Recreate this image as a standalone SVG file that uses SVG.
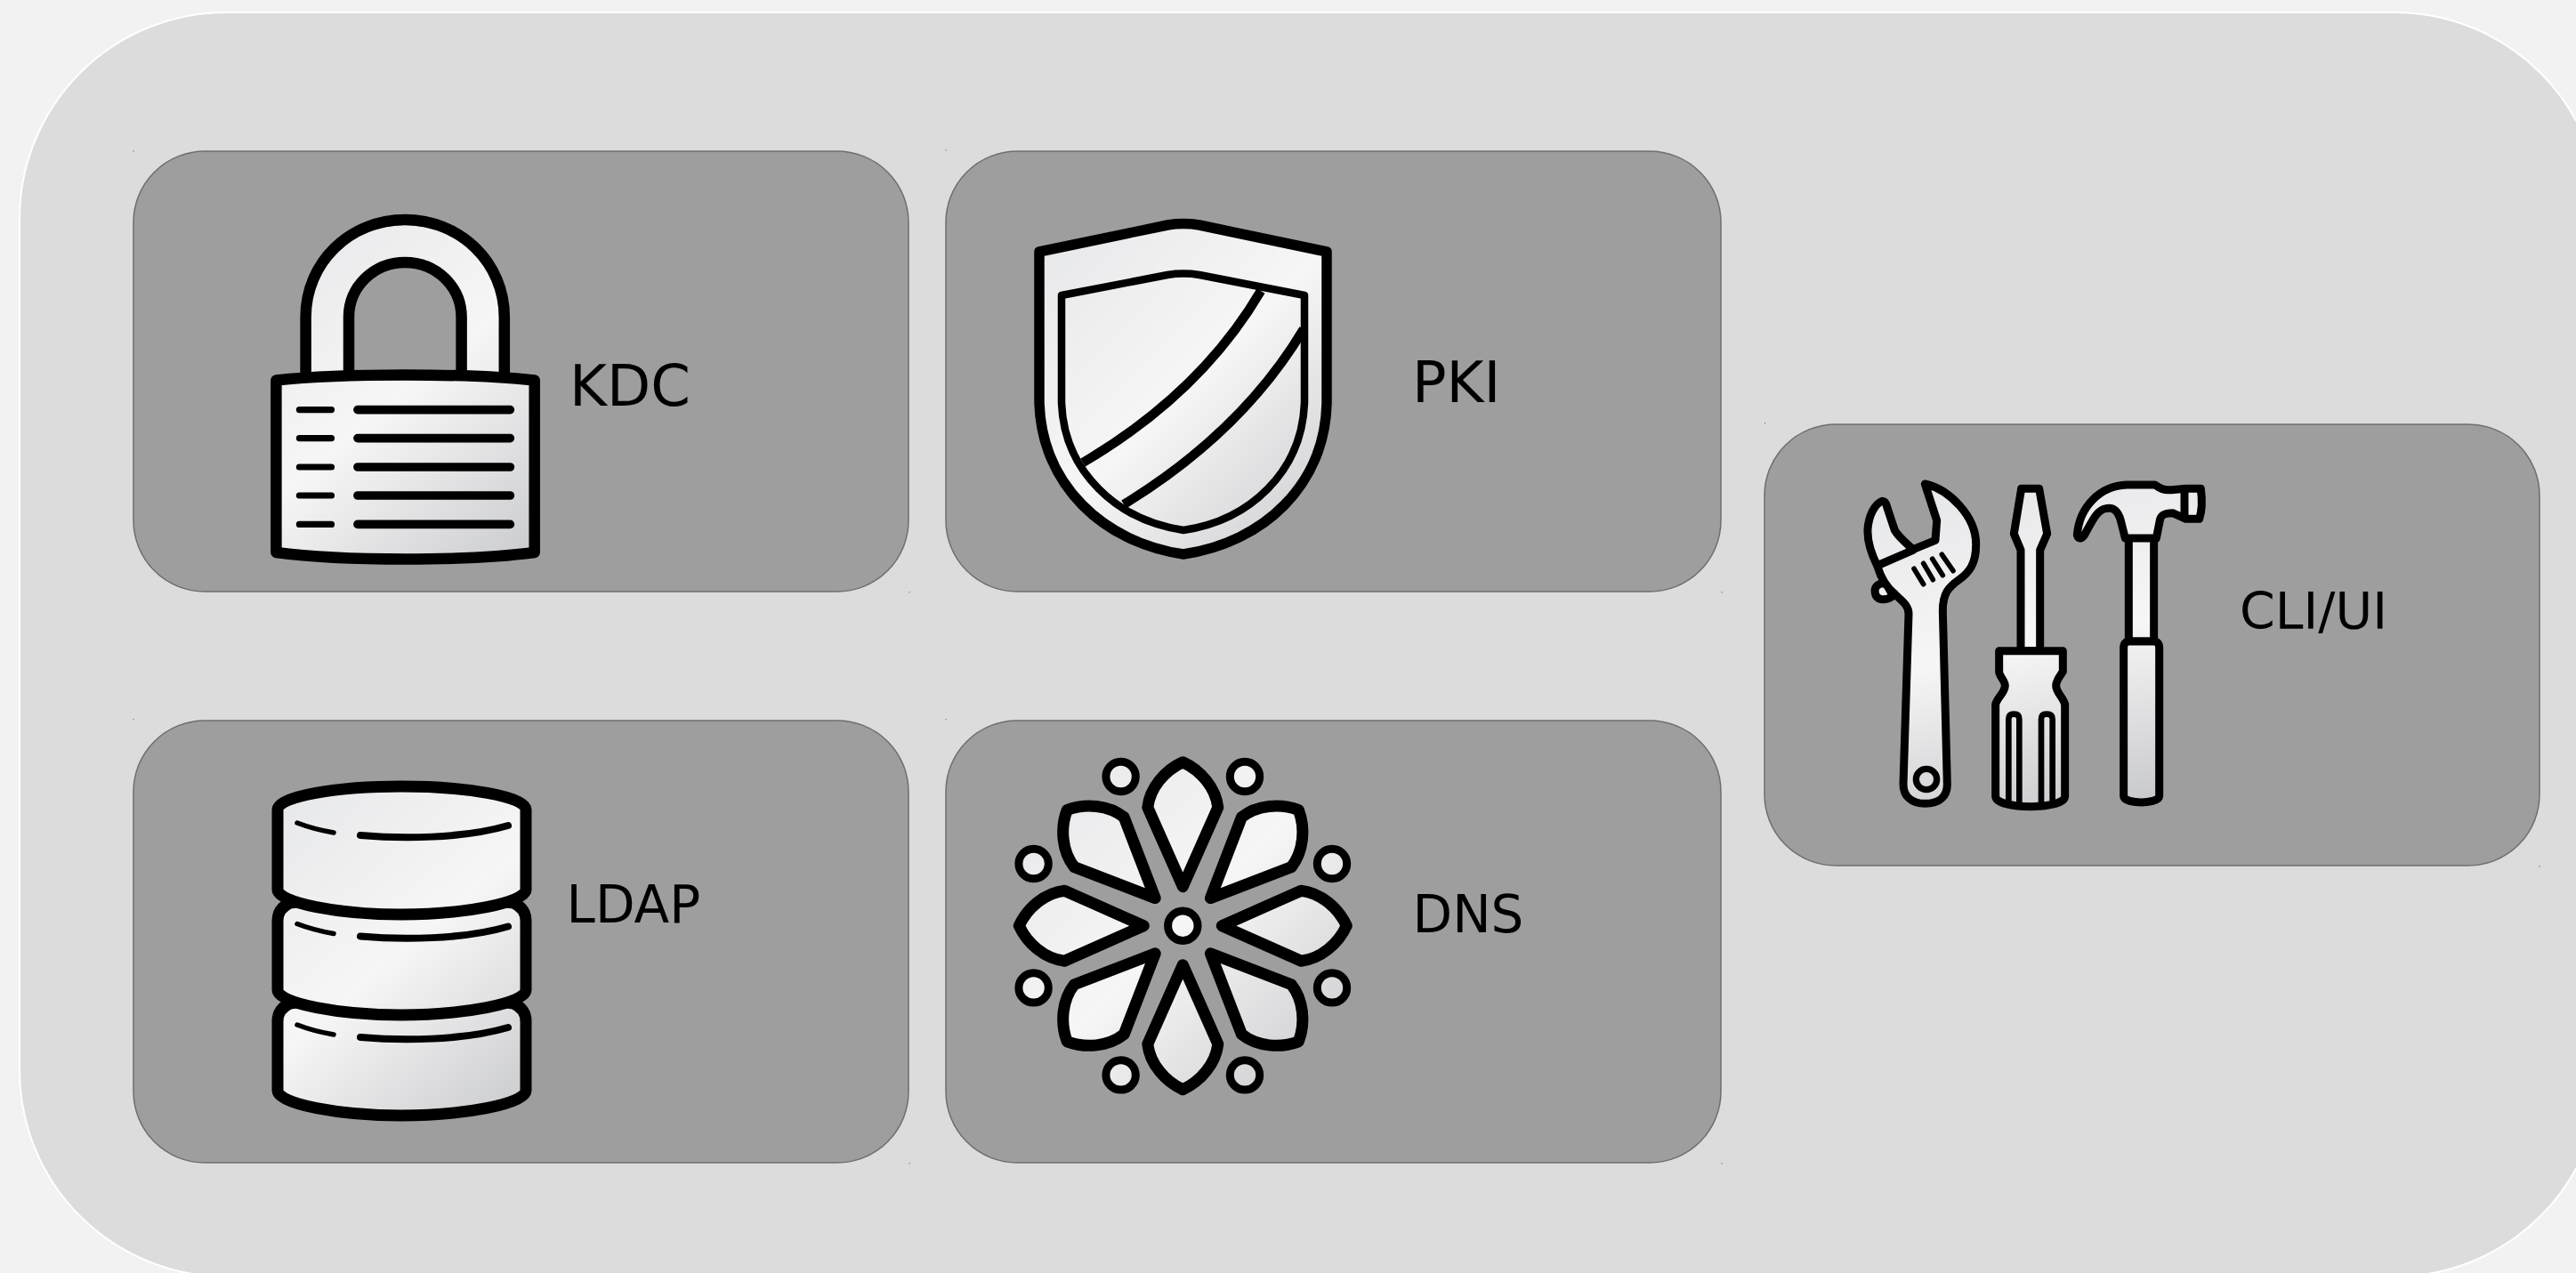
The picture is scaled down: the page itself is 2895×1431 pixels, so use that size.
<svg xmlns="http://www.w3.org/2000/svg" xmlns:xlink="http://www.w3.org/1999/xlink" width="2895" height="1431" viewBox="0 0 2895 1431">
<style>
.panel{fill:#9e9e9e;stroke:#6e6e6e;stroke-width:1.5}
.dot{fill:#777}
.label{font-family:"DejaVu Sans",sans-serif;fill:#000}
.i{stroke:#000;stroke-linejoin:round;stroke-linecap:round}
.n{fill:none}
</style>
<defs>
<linearGradient id="stops"><stop offset="0" stop-color="#e5e6e8"/><stop offset=".5" stop-color="#f6f6f6"/><stop offset="1" stop-color="#c6c7ca"/></linearGradient>
<linearGradient id="gLock" xlink:href="#stops" gradientUnits="userSpaceOnUse" x1="290" y1="240" x2="620" y2="640"/>
<linearGradient id="gShield" xlink:href="#stops" gradientUnits="userSpaceOnUse" x1="1140" y1="250" x2="1520" y2="630"/>
<linearGradient id="gDb" xlink:href="#stops" gradientUnits="userSpaceOnUse" x1="290" y1="880" x2="610" y2="1260"/>
<linearGradient id="gDns" xlink:href="#stops" gradientUnits="userSpaceOnUse" x1="-190" y1="-190" x2="190" y2="190"/>
<linearGradient id="gTool" xlink:href="#stops" gradientUnits="userSpaceOnUse" x1="500" y1="0" x2="760" y2="1230"/>
</defs>
<rect width="2895" height="1431" fill="#f2f2f2"/>
<rect id="outer" x="22" y="14" width="2901" height="1421" rx="232" ry="232" fill="#dcdcdc" stroke="#fff" stroke-width="2"/>
<rect x="21" y="13" width="1" height="1" fill="#fff"/>

<g id="kdc">
<rect class="panel" x="150" y="170" width="871" height="495" rx="80" ry="80"/>
<rect class="dot" x="149.500" y="169" width="1" height="1.500"/><rect class="dot" x="1021.500" y="665" width="1" height="1.500"/>
<g class="i" fill="url(#gLock)">
<path stroke-width="12.500" style="stroke-linejoin:miter" d="M343.600,430V356.600C343.600,295 393,247.100 455.200,247.100C517.400,247.100 566.800,295 566.800,356.600V430H518.600V356.600C518.600,322 490,295 455.200,295C420.400,295 392,322 392,356.600V430Z"/>
<path stroke-width="12.500" d="M310.400,427.500C385,419.500 525,419.500 600.700,427.500V621C525,631 385,631 310.400,621Z"/>
<path class="n" stroke-width="9.600" d="M401.900,460.600H573.400M401.900,492.600H573.400M401.900,525H573.400M401.900,557H573.400M401.900,589.400H573.400"/>
<path class="n" stroke-width="7.200" d="M336.400,460.600H372.500M336.400,492.600H372.500M336.400,525H372.500M336.400,557H372.500M336.400,589.400H372.500"/>
</g>
<text class="label" x="640" y="455.700" font-size="64">KDC</text>
</g>

<g id="pki">
<rect class="panel" x="1063" y="170" width="871" height="495" rx="80" ry="80"/>
<rect class="dot" x="1062.500" y="168" width="1" height="1.500"/><rect class="dot" x="1934.500" y="665" width="1" height="1.500"/>
<g class="i" fill="url(#gShield)">
<path stroke-width="11.500" d="M1168,283L1312,253C1325,251 1335,251 1348,253L1491,283V453C1489,545 1420,610 1330,623C1240,610 1171,545 1168,453Z"/>
<path stroke-width="8.500" d="M1193,332L1312,309C1325,307 1335,307 1348,309L1466,332V453C1463,530 1405,585 1330,596C1255,585 1196,530 1193,453Z"/>
<path class="n" stroke-width="10.500" style="stroke-linecap:butt" d="M1417,327Q1349,442.500 1217,520M1465,370Q1396,485.500 1263,567"/>
</g>
<text class="label" x="1587" y="452.300" font-size="64">PKI</text>
</g>

<g id="ldap">
<rect class="panel" x="150" y="810" width="871" height="497" rx="80" ry="80"/>
<rect class="dot" x="149.500" y="808" width="1" height="1.500"/><rect class="dot" x="1021.500" y="1307" width="1" height="1.500"/>
<g class="i" fill="url(#gDb)" stroke-width="13">
<path d="M326,1128Q312,1134 312,1148V1226C312,1241 382,1254 451,1254C520,1254 591,1241 591,1226V1148Q591,1134 577,1128L451,1110Z"/>
<path d="M326,1015Q312,1021 312,1035V1113C312,1128 382,1141 451,1141C520,1141 591,1128 591,1113V1035Q591,1021 577,1015L451,1000Z"/>
<path d="M312,910C312,895 380,884 451,884C522,884 591,895 591,910V1000C591,1015 520,1028 451,1028C382,1028 312,1015 312,1000Z"/>
<g class="n">
<path stroke-width="5.500" d="M334,925Q352,932 375,936"/>
<path stroke-width="8" d="M405,939C450,943 520,943 571,928"/>
<path stroke-width="5.500" d="M334,1038.500Q352,1045.500 375,1049.500"/>
<path stroke-width="8" d="M405,1052.500C450,1056.500 520,1056.500 571,1041.500"/>
<path stroke-width="5.500" d="M334,1152Q352,1159 375,1163"/>
<path stroke-width="8" d="M405,1166C450,1170 520,1170 571,1155"/>
</g>
</g>
<text class="label" x="636.600" y="1037.300" font-size="58">LDAP</text>
</g>

<g id="dns">
<rect class="panel" x="1063" y="810" width="871" height="497" rx="80" ry="80"/>
<rect class="dot" x="1062.500" y="808" width="1" height="1.500"/><rect class="dot" x="1934.500" y="1307" width="1" height="1.500"/>
<g class="i" fill="url(#gDns)" transform="translate(1329.300,1040.700)">
<g stroke-width="13">
<path d="M0,-44L39.500,-133C37,-155 20,-175 0,-184C-20,-175 -37,-155 -39.500,-133Z"/>
<path d="M31.100,-31.100L122,-66.100C135.800,-83.400 137.900,-109.600 130.100,-130.100C109.600,-137.900 83.400,-135.800 66.100,-122Z"/>
<path d="M44,0L133,39.500C155,37 175,20 184,0C175,-20 155,-37 133,-39.500Z"/>
<path d="M31.100,31.100L66.100,122C83.400,135.800 109.600,137.900 130.100,130.100C137.900,109.600 135.800,83.400 122,66.100Z"/>
<path d="M0,44L-39.500,133C-37,155 -20,175 0,184C20,175 37,155 39.500,133Z"/>
<path d="M-31.100,31.100L-122,66.100C-135.800,83.400 -137.900,109.600 -130.100,130.100C-109.600,137.900 -83.400,135.800 -66.100,122Z"/>
<path d="M-44,0L-133,-39.500C-155,-37 -175,-20 -184,0C-175,20 -155,37 -133,39.500Z"/>
<path d="M-31.100,-31.100L-66.100,-122C-83.400,-135.800 -109.600,-137.900 -130.100,-130.100C-137.900,-109.600 -135.800,-83.400 -122,-66.100Z"/>
</g>
<g stroke-width="9">
<circle r="16.700"/>
<circle cx="-69.700" cy="-167.700" r="16.700"/><circle cx="69.700" cy="-167.700" r="16.700"/>
<circle cx="-167.700" cy="-69.700" r="16.700"/><circle cx="167.700" cy="-69.700" r="16.700"/>
<circle cx="-167.700" cy="69.700" r="16.700"/><circle cx="167.700" cy="69.700" r="16.700"/>
<circle cx="-69.700" cy="167.700" r="16.700"/><circle cx="69.700" cy="167.700" r="16.700"/>
</g>
</g>
<text class="label" x="1587.500" y="1047.600" font-size="58">DNS</text>
</g>

<g id="cli">
<rect class="panel" x="1983" y="477" width="871" height="496" rx="80" ry="80"/>
<rect class="dot" x="1983" y="475" width="1" height="1.500"/><rect class="dot" x="2853.500" y="973" width="1" height="1.500"/>
<g class="i" fill="url(#gTool)" stroke-width="27" transform="translate(2070,520) scale(.33333)">
<path d="M150,408C120,405 108,420 112,440C115,462 142,470 172,450Z"/>
<path d="M280,72C360,90 455,180 452,280C452,340 430,370 395,395C360,420 340,440 340,500L355,1085C355,1125 330,1150 280,1150C235,1150 207,1125 207,1085L225,510C225,480 200,465 180,445C150,420 130,385 120,350C95,300 85,265 87,225C90,180 110,140 135,130C145,130 150,140 152,150L178,228C190,250 215,270 240,293L315,262L320,195Z"/>
<path class="n" d="M125,345L240,295"/>
<path class="n" stroke-width="17" d="M243,358L275,410M275,340L307,395M305,325L340,380M337,310L375,365"/>
<circle cx="285" cy="1068" r="35" stroke-width="22"/>
<path d="M605,88H665L692,240L668,295V635H603V295L580,240Z"/>
<path d="M530,635H745V705C735,720 722,735 722,752C722,775 745,790 752,815V1125C752,1150 690,1160 635,1160C580,1160 518,1150 518,1125V815C525,790 550,775 550,752C550,735 530,720 530,705Z"/>
<path class="n" stroke-width="20" style="stroke-linecap:butt" d="M562,1152V865Q562,848 580,848Q598,848 598,865V1152M672,1152V865Q672,848 690,848Q710,848 710,865V1152"/>
<path d="M967,250V603H1052V250Z"/>
<path d="M793,245C800,150 870,78 960,75H1055C1070,85 1085,95 1110,92L1160,88H1210C1215,125 1215,160 1205,190H1160L1115,170C1090,170 1075,175 1072,195L1060,255H955L940,195C930,160 915,150 890,155C860,160 845,195 820,240C810,258 797,260 793,245Z"/>
<path class="n" d="M1155,92V185"/>
<path d="M950,625Q950,603 970,603H1050Q1070,603 1070,625V1125C1070,1140 1030,1146 1010,1146C985,1146 950,1140 950,1125Z"/>
</g>
<text class="label" x="2517" y="706.700" font-size="57">CLI/UI</text>
</g>
</svg>
